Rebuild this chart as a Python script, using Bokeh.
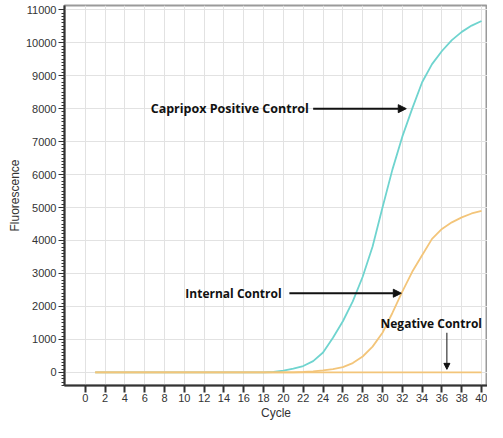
from bokeh.plotting import figure
from bokeh.models import Range1d, FixedTicker, Arrow, NormalHead, Label
from bokeh.embed import file_html
from bokeh.resources import INLINE

cycles = list(range(1, 41))
positive = [0]*18 + [10, 50, 110, 190, 340, 600, 1050, 1550, 2150, 2900, 3820, 5000,
                     6150, 7150, 8000, 8800, 9350, 9750, 10080, 10330, 10520, 10660]
internal = [0]*21 + [10, 30, 60, 100, 160, 280, 480, 780, 1200, 1800, 2450, 3050,
                     3550, 4050, 4350, 4550, 4700, 4820, 4900]
negative = [0]*40
x_ticks = list(range(0, 41, 2))
y_ticks = list(range(0, 11001, 1000))

CYAN = "#6fd4cf"
YELLOW = "#f3c57a"

p = figure(width=487, height=422, output_backend="svg", toolbar_location=None,
           x_range=Range1d(-2.1, 40.6), y_range=Range1d(-400, 11130),
           min_border_left=64, min_border_right=0, min_border_top=5, min_border_bottom=34)
p.title.visible = False
p.outline_line_color = "#9a9a9a"
p.outline_line_width = 2

p.xaxis.ticker = FixedTicker(ticks=x_ticks)
p.yaxis.ticker = FixedTicker(ticks=y_ticks, minor_ticks=list(range(-400, 11001, 100)))
p.xgrid.grid_line_color = "#e2e2e2"
p.ygrid.grid_line_color = "#e2e2e2"

for ax in (p.xaxis, p.yaxis):
    ax.axis_line_color = "#333333"
    ax.axis_line_width = 2
    ax.major_tick_line_color = "#333333"
    ax.minor_tick_line_color = "#333333"
    ax.major_label_text_font = "Liberation Sans"
    ax.major_label_text_font_size = "11px"
    ax.major_label_text_color = "#333333"
    ax.axis_label_text_font = "Liberation Sans"
    ax.axis_label_text_font_size = "12px"
    ax.axis_label_text_font_style = "normal"
    ax.axis_label_text_color = "#333333"
    ax.major_label_standoff = 2
    ax.axis_label_standoff = 1

p.xaxis.major_tick_out = 7
p.xaxis.major_tick_in = 0
p.xaxis.minor_tick_out = 0
p.xaxis.minor_tick_in = 0
p.xaxis.major_tick_line_width = 2
p.xaxis.major_label_standoff = 1
p.yaxis.major_tick_out = 6
p.yaxis.major_tick_in = 0
p.yaxis.minor_tick_out = 3
p.yaxis.minor_tick_in = 0
p.xaxis.axis_label = "Cycle"
p.yaxis.axis_label = "Fluorescence"

p.line(cycles, positive, line_color=CYAN, line_width=1.8)
p.line(cycles, internal, line_color=YELLOW, line_width=1.8)
p.line(cycles, negative, line_color=YELLOW, line_width=1.8)

lab_kw = dict(text_font="Open Sans", text_font_size="12.5px", text_font_style="bold",
              text_color="#111111", text_baseline="middle")
p.add_layout(Label(x=6.6, y=8000, text="Capripox Positive Control", **lab_kw))
p.add_layout(Label(x=10.1, y=2400, text="Internal Control",
                   **{**lab_kw, "text_font_size": "12px"}))
p.add_layout(Label(x=29.8, y=1470, text="Negative Control",
                   **{**lab_kw, "text_font_size": "12px"}))

p.add_layout(Arrow(end=NormalHead(size=8, fill_color="#111111", line_color="#111111"),
                   x_start=23.0, y_start=8000, x_end=32.4, y_end=8000,
                   line_color="#111111", line_width=2))
p.add_layout(Arrow(end=NormalHead(size=8, fill_color="#111111", line_color="#111111"),
                   x_start=20.6, y_start=2400, x_end=31.9, y_end=2400,
                   line_color="#111111", line_width=2))
p.add_layout(Arrow(end=NormalHead(size=6, fill_color="#111111", line_color="#111111"),
                   x_start=36.5, y_start=1200, x_end=36.5, y_end=90,
                   line_color="#111111", line_width=1))

open("out.html", "w").write(file_html(p, INLINE))
